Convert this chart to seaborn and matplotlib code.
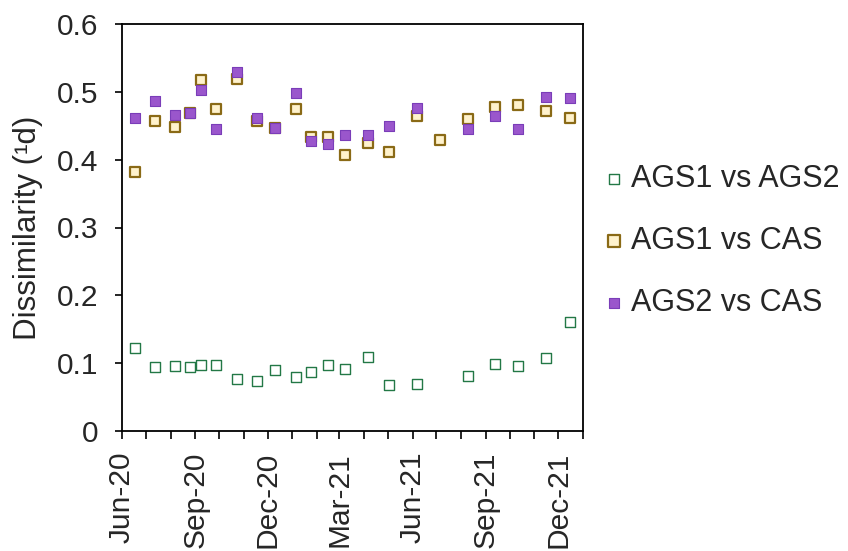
import matplotlib
matplotlib.use("Agg")
import matplotlib.pyplot as plt
import matplotlib.dates as mdates
import seaborn as sns
import pandas as pd

# --- data -------------------------------------------------------------
dates_common = ["2020-06-17", "2020-07-12", "2020-08-06", "2020-08-26", "2020-09-08",
                "2020-09-27", "2020-10-23", "2020-11-18", "2020-12-10", "2021-01-06",
                "2021-01-25", "2021-02-15", "2021-03-08", "2021-04-06", "2021-05-02",
                "2021-06-07", "2021-08-10", "2021-09-13", "2021-10-11", "2021-11-15",
                "2021-12-16"]
dates_gold = ["2020-06-17", "2020-07-12", "2020-08-06", "2020-08-26", "2020-09-08",
              "2020-09-27", "2020-10-23", "2020-11-18", "2020-12-10", "2021-01-06",
              "2021-01-25", "2021-02-15", "2021-03-08", "2021-04-06", "2021-05-02",
              "2021-06-07", "2021-07-06", "2021-08-10", "2021-09-13", "2021-10-11",
              "2021-11-15", "2021-12-16"]

ags1_vs_ags2 = [0.122, 0.094, 0.096, 0.094, 0.098, 0.098, 0.076, 0.074, 0.090, 0.079,
                0.087, 0.098, 0.091, 0.109, 0.068, 0.069, 0.081, 0.099, 0.096, 0.107,
                0.161]
ags1_vs_cas = [0.382, 0.457, 0.448, 0.469, 0.518, 0.474, 0.519, 0.457, 0.447, 0.474,
               0.434, 0.433, 0.407, 0.424, 0.412, 0.464, 0.429, 0.460, 0.477, 0.481,
               0.472, 0.461]
ags2_vs_cas = [0.461, 0.486, 0.466, 0.469, 0.503, 0.445, 0.529, 0.461, 0.447, 0.499,
               0.428, 0.423, 0.436, 0.437, 0.450, 0.476, 0.445, 0.464, 0.445, 0.492,
               0.491]

labels = ["AGS1 vs AGS2", "AGS1 vs CAS", "AGS2 vs CAS"]
y_ticks = [0, 0.1, 0.2, 0.3, 0.4, 0.5, 0.6]
y_tick_labels = ["0", "0.1", "0.2", "0.3", "0.4", "0.5", "0.6"]

# --- style ------------------------------------------------------------
sns.set_style("ticks")
plt.rcParams["font.family"] = ["Liberation Sans", "DejaVu Sans"]

fig = plt.figure(figsize=(8.48, 5.51), dpi=100)
ax = fig.add_axes([122 / 848, 1 - 431 / 551, (583 - 122) / 848, (431 - 24) / 551])

df_g = pd.DataFrame({"date": pd.to_datetime(dates_common), "v": ags1_vs_ags2})
df_o = pd.DataFrame({"date": pd.to_datetime(dates_gold), "v": ags1_vs_cas})
df_p = pd.DataFrame({"date": pd.to_datetime(dates_common), "v": ags2_vs_cas})

sns.scatterplot(data=df_g, x="date", y="v", ax=ax, marker="s", s=44,
                facecolor="white", edgecolor="#237846", linewidth=1.0,
                label=labels[0], zorder=3)
sns.scatterplot(data=df_o, x="date", y="v", ax=ax, marker="s", s=56,
                facecolor="#FFF2CC", edgecolor="#8A6A16", linewidth=1.6,
                label=labels[1], zorder=4)
sns.scatterplot(data=df_p, x="date", y="v", ax=ax, marker="s", s=50,
                facecolor="#9A56CC", edgecolor="#7A3DB8", linewidth=0.8,
                label=labels[2], zorder=5)

ax.set_xlim(pd.Timestamp("2020-06-01"), pd.Timestamp("2022-01-01"))
ax.set_ylim(0, 0.6)
ax.set_yticks(y_ticks)
ax.set_yticklabels(y_tick_labels)

ax.xaxis.set_major_locator(mdates.MonthLocator(bymonth=[3, 6, 9, 12]))
ax.xaxis.set_major_formatter(mdates.DateFormatter("%b-%y"))
ax.xaxis.set_minor_locator(mdates.MonthLocator())

ax.tick_params(axis="x", which="both", direction="out", length=6, width=1.2,
               color="black")
ax.tick_params(axis="x", which="major", labelsize=21.5, pad=9, labelrotation=90)
ax.tick_params(axis="y", which="major", direction="out", length=5, width=1.2,
               labelsize=21.5, pad=12, color="black")

ax.set_xlabel("")
ax.set_ylabel("Dissimilarity (\u00b9d)", fontsize=22.5, labelpad=10)

for sp in ax.spines.values():
    sp.set_visible(True)
    sp.set_color("black")
    sp.set_linewidth(1.3)

ax.legend(loc="center left", bbox_to_anchor=(606 / 848, 1 - 241 / 551),
          bbox_transform=fig.transFigure, frameon=False, fontsize=22,
          handlelength=0.55, handletextpad=0.28, labelspacing=1.06,
          borderpad=0, borderaxespad=0, markerscale=1.1)

fig.savefig("out.png", dpi=100)
